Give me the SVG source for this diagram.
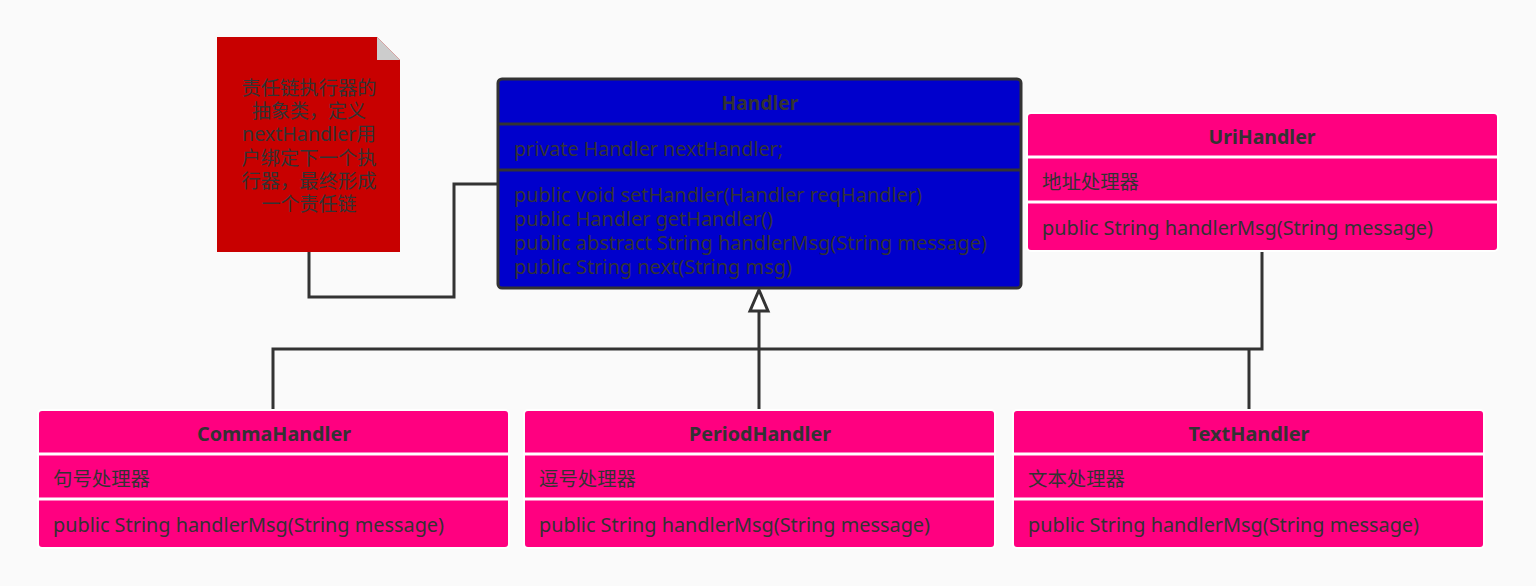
<svg xmlns="http://www.w3.org/2000/svg" width="1536" height="586" viewBox="0 0 1536 586">
<defs>
<style>
.t{font-family:"Noto Sans","Noto Sans CJK SC",sans-serif;font-size:19px;fill:#333333;}
.b{font-weight:bold;text-anchor:middle;}
.n{font-family:"Noto Sans","Noto Sans CJK SC",sans-serif;font-size:19px;fill:#333333;text-anchor:middle;}
.pink{fill:#FF0080;stroke:#ffffff;stroke-width:2;}
.sep{stroke:#ffffff;stroke-width:3;}
.dsep{stroke:#333333;stroke-width:3;}
.conn{fill:none;stroke:#333333;stroke-width:3;}
</style>
</defs>
<rect width="1536" height="586" fill="#fafafa"/>
<g id="connectors">
<polyline class="conn" points="309,252 309,297 454,297 454,184 498,184"/>
<polyline class="conn" points="1262,252 1262,349 273,349 273,411"/>
<line class="conn" x1="1249" y1="349" x2="1249" y2="411"/>
<line class="conn" x1="759" y1="410" x2="759" y2="311"/>
<path d="M759,290 L768,311 L750,311 Z" fill="#ffffff" stroke="#333333" stroke-width="3" stroke-linejoin="miter"/>
</g>
<g id="note">
<path d="M217,37 L377,37 L400,60 L400,252 L217,252 Z" fill="#C80000"/>
<path d="M377,37 L400,60 L377,60 Z" fill="#cccccc"/>
<text class="n" x="309" y="95" textLength="135" lengthAdjust="spacingAndGlyphs">责任链执行器的</text>
<text class="n" x="309" y="118">抽象类，定义</text>
<text class="n" x="309" y="141" textLength="134" lengthAdjust="spacingAndGlyphs">nextHandler用</text>
<text class="n" x="309" y="165" textLength="135" lengthAdjust="spacingAndGlyphs">户绑定下一个执</text>
<text class="n" x="309" y="188" textLength="135" lengthAdjust="spacingAndGlyphs">行器，最终形成</text>
<text class="n" x="309" y="211">一个责任链</text>
</g>
<g id="Handler">
<rect x="498" y="79" width="523" height="209" rx="4" fill="#0000CC" stroke="#333333" stroke-width="3"/>
<line class="dsep" x1="498" y1="124" x2="1021" y2="124"/>
<line class="dsep" x1="498" y1="170" x2="1021" y2="170"/>
<text class="t b" x="760" y="110" textLength="77" lengthAdjust="spacingAndGlyphs">Handler</text>
<text class="t" x="514" y="156" textLength="269" lengthAdjust="spacingAndGlyphs">private Handler nextHandler;</text>
<text class="t" x="514" y="202" textLength="408" lengthAdjust="spacingAndGlyphs">public void setHandler(Handler reqHandler)</text>
<text class="t" x="514" y="226" textLength="259" lengthAdjust="spacingAndGlyphs">public Handler getHandler()</text>
<text class="t" x="514" y="250" textLength="473" lengthAdjust="spacingAndGlyphs">public abstract String handlerMsg(String message)</text>
<text class="t" x="514" y="274" textLength="278" lengthAdjust="spacingAndGlyphs">public String next(String msg)</text>
</g>
<g id="UriHandler">
<rect class="pink" x="1027" y="113" width="471" height="138" rx="4"/>
<line class="sep" x1="1027" y1="157" x2="1498" y2="157"/>
<line class="sep" x1="1027" y1="202" x2="1498" y2="202"/>
<text class="t b" x="1262" y="144" textLength="107" lengthAdjust="spacingAndGlyphs">UriHandler</text>
<text class="t" x="1042" y="189" textLength="97" lengthAdjust="spacingAndGlyphs">地址处理器</text>
<text class="t" x="1042" y="235" textLength="391" lengthAdjust="spacingAndGlyphs">public String handlerMsg(String message)</text>
</g>
<g id="CommaHandler">
<rect class="pink" x="38" y="410" width="471" height="138" rx="4"/>
<line class="sep" x1="38" y1="454" x2="509" y2="454"/>
<line class="sep" x1="38" y1="499" x2="509" y2="499"/>
<text class="t b" x="274" y="441" textLength="154" lengthAdjust="spacingAndGlyphs">CommaHandler</text>
<text class="t" x="53" y="486" textLength="97" lengthAdjust="spacingAndGlyphs">句号处理器</text>
<text class="t" x="53" y="532" textLength="391" lengthAdjust="spacingAndGlyphs">public String handlerMsg(String message)</text>
</g>
<g id="PeriodHandler">
<rect class="pink" x="524" y="410" width="471" height="138" rx="4"/>
<line class="sep" x1="524" y1="454" x2="995" y2="454"/>
<line class="sep" x1="524" y1="499" x2="995" y2="499"/>
<text class="t b" x="760" y="441" textLength="142" lengthAdjust="spacingAndGlyphs">PeriodHandler</text>
<text class="t" x="539" y="486" textLength="97" lengthAdjust="spacingAndGlyphs">逗号处理器</text>
<text class="t" x="539" y="532" textLength="391" lengthAdjust="spacingAndGlyphs">public String handlerMsg(String message)</text>
</g>
<g id="TextHandler">
<rect class="pink" x="1013" y="410" width="471" height="138" rx="4"/>
<line class="sep" x1="1013" y1="454" x2="1484" y2="454"/>
<line class="sep" x1="1013" y1="499" x2="1484" y2="499"/>
<text class="t b" x="1249" y="441" textLength="121" lengthAdjust="spacingAndGlyphs">TextHandler</text>
<text class="t" x="1028" y="486" textLength="97" lengthAdjust="spacingAndGlyphs">文本处理器</text>
<text class="t" x="1028" y="532" textLength="391" lengthAdjust="spacingAndGlyphs">public String handlerMsg(String message)</text>
</g>
</svg>
